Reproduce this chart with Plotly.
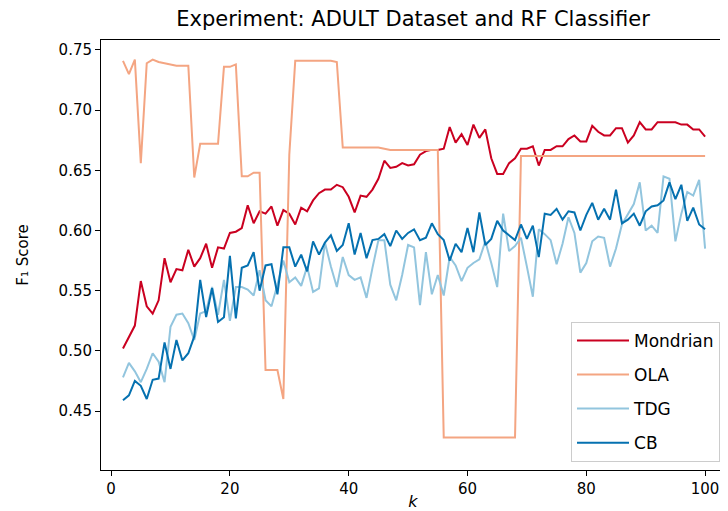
import plotly.graph_objects as go

k_values = list(range(2, 101))

mondrian = [0.502, 0.512, 0.521, 0.558, 0.537, 0.531, 0.542, 0.577, 0.557, 0.568,
            0.567, 0.584, 0.570, 0.577, 0.589, 0.569, 0.586, 0.585, 0.598, 0.599,
            0.602, 0.621, 0.606, 0.616, 0.614, 0.620, 0.604, 0.617, 0.614, 0.605,
            0.619, 0.616, 0.625, 0.631, 0.634, 0.634, 0.638, 0.636, 0.628, 0.615,
            0.629, 0.628, 0.634, 0.643, 0.658, 0.652, 0.653, 0.656, 0.654, 0.655,
            0.663, 0.666, 0.667, 0.667, 0.668, 0.686, 0.673, 0.680, 0.671, 0.688,
            0.677, 0.684, 0.660, 0.647, 0.647, 0.656, 0.660, 0.668, 0.668, 0.670,
            0.654, 0.667, 0.667, 0.670, 0.670, 0.676, 0.679, 0.674, 0.674, 0.687,
            0.682, 0.679, 0.679, 0.685, 0.685, 0.673, 0.679, 0.690, 0.684, 0.684,
            0.690, 0.690, 0.690, 0.690, 0.688, 0.688, 0.684, 0.684, 0.678]

ola = [0.741, 0.730, 0.742, 0.656, 0.739, 0.742, 0.740, 0.739, 0.738, 0.737,
       0.737, 0.737, 0.644, 0.672, 0.672, 0.672, 0.672, 0.736, 0.736, 0.738,
       0.645, 0.645, 0.648, 0.648, 0.484, 0.484, 0.484, 0.460, 0.663, 0.741,
       0.741, 0.741, 0.741, 0.741, 0.741, 0.741, 0.740, 0.669, 0.669, 0.669,
       0.669, 0.669, 0.669, 0.669, 0.668, 0.667, 0.667, 0.667, 0.667, 0.667,
       0.667, 0.667, 0.667, 0.667, 0.428, 0.428, 0.428, 0.428, 0.428, 0.428,
       0.428, 0.428, 0.428, 0.428, 0.428, 0.428, 0.428, 0.662, 0.662, 0.662,
       0.662, 0.662, 0.662, 0.662, 0.662, 0.662, 0.662, 0.662, 0.662, 0.662,
       0.662, 0.662, 0.662, 0.662, 0.662, 0.662, 0.662, 0.662, 0.662, 0.662,
       0.662, 0.662, 0.662, 0.662, 0.662, 0.662, 0.662, 0.662, 0.662]

tdg = [0.478, 0.490, 0.483, 0.474, 0.485, 0.498, 0.491, 0.474, 0.520, 0.530,
       0.531, 0.523, 0.509, 0.531, 0.533, 0.553, 0.530, 0.559, 0.525, 0.553,
       0.553, 0.551, 0.546, 0.567, 0.542, 0.537, 0.555, 0.575, 0.557, 0.561,
       0.554, 0.570, 0.549, 0.552, 0.590, 0.570, 0.553, 0.578, 0.563, 0.559,
       0.561, 0.544, 0.569, 0.592, 0.592, 0.555, 0.542, 0.563, 0.588, 0.586,
       0.538, 0.582, 0.547, 0.563, 0.546, 0.578, 0.571, 0.558, 0.569, 0.573,
       0.576, 0.591, 0.573, 0.553, 0.614, 0.583, 0.587, 0.594, 0.570, 0.545,
       0.601, 0.597, 0.592, 0.572, 0.589, 0.611, 0.598, 0.565, 0.573, 0.591,
       0.595, 0.594, 0.570, 0.585, 0.605, 0.613, 0.622, 0.640, 0.600, 0.604,
       0.598, 0.645, 0.643, 0.591, 0.614, 0.632, 0.629, 0.642, 0.585]

cb = [0.459, 0.463, 0.475, 0.471, 0.460, 0.476, 0.477, 0.507, 0.485, 0.509,
      0.492, 0.498, 0.512, 0.559, 0.528, 0.552, 0.524, 0.528, 0.579, 0.527,
      0.569, 0.571, 0.582, 0.550, 0.571, 0.572, 0.547, 0.586, 0.586, 0.570,
      0.580, 0.566, 0.591, 0.580, 0.590, 0.596, 0.583, 0.588, 0.606, 0.580,
      0.598, 0.577, 0.592, 0.593, 0.597, 0.587, 0.600, 0.593, 0.598, 0.601,
      0.592, 0.594, 0.606, 0.597, 0.592, 0.575, 0.589, 0.582, 0.602, 0.582,
      0.615, 0.588, 0.593, 0.608, 0.600, 0.596, 0.592, 0.605, 0.593, 0.604,
      0.578, 0.614, 0.613, 0.618, 0.609, 0.616, 0.615, 0.600, 0.613, 0.623,
      0.609, 0.618, 0.609, 0.634, 0.606, 0.609, 0.614, 0.604, 0.616, 0.620,
      0.621, 0.625, 0.640, 0.626, 0.638, 0.608, 0.619, 0.605, 0.601]

series = [("Mondrian", mondrian, "#ca0020"),
          ("OLA", ola, "#f4a582"),
          ("TDG", tdg, "#92c5de"),
          ("CB", cb, "#0571b0")]

x_ticks = [0, 20, 40, 60, 80, 100]
y_ticks = [0.45, 0.50, 0.55, 0.60, 0.65, 0.70, 0.75]

fig = go.Figure()
for name, vals, color in series:
    fig.add_trace(go.Scatter(x=k_values, y=vals, mode="lines", name=name,
                             legendgroup=name,
                             line=dict(color=color, width=2)))

font_family = "DejaVu Sans"
# The page has an 8px body margin, so the figure is drawn 8px smaller.
fig.update_layout(
    width=720, height=503,
    margin=dict(l=93, r=3, t=32, b=41, autoexpand=False),
    paper_bgcolor="white", plot_bgcolor="white",
    font=dict(family=font_family, size=15, color="black"),
    title=dict(text="Experiment: ADULT Dataset and RF Classifier",
               x=0.5, xref="paper", xanchor="center",
               y=1 - 11 / 503, yanchor="middle",
               font=dict(size=21, family=font_family)),
    showlegend=True,
    legend=dict(x=0.992, y=0.019, xanchor="right", yanchor="bottom",
                bgcolor="rgba(255,255,255,0.85)", bordercolor="#cccccc",
                borderwidth=1, font=dict(size=17, family=font_family),
                tracegroupgap=9, itemwidth=52),
)
fig.update_xaxes(range=[-1.7, 103.35], tickvals=x_ticks,
                 ticktext=[str(t) for t in x_ticks],
                 showline=True, linecolor="black", linewidth=1, mirror=True,
                 ticks="outside", ticklen=5, tickcolor="black",
                 showgrid=False, zeroline=False,
                 title=dict(text="<i>k</i>", font=dict(size=16), standoff=5))
fig.update_yaxes(range=[0.401, 0.7583], tickvals=y_ticks,
                 ticktext=[f"{t:.2f}" for t in y_ticks],
                 showline=True, linecolor="black", linewidth=1, mirror=True,
                 ticks="outside", ticklen=5, tickcolor="black",
                 showgrid=False, zeroline=False,
                 title=dict(text="F₁ Score", font=dict(size=15), standoff=26))

fig.write_html("out.html")
